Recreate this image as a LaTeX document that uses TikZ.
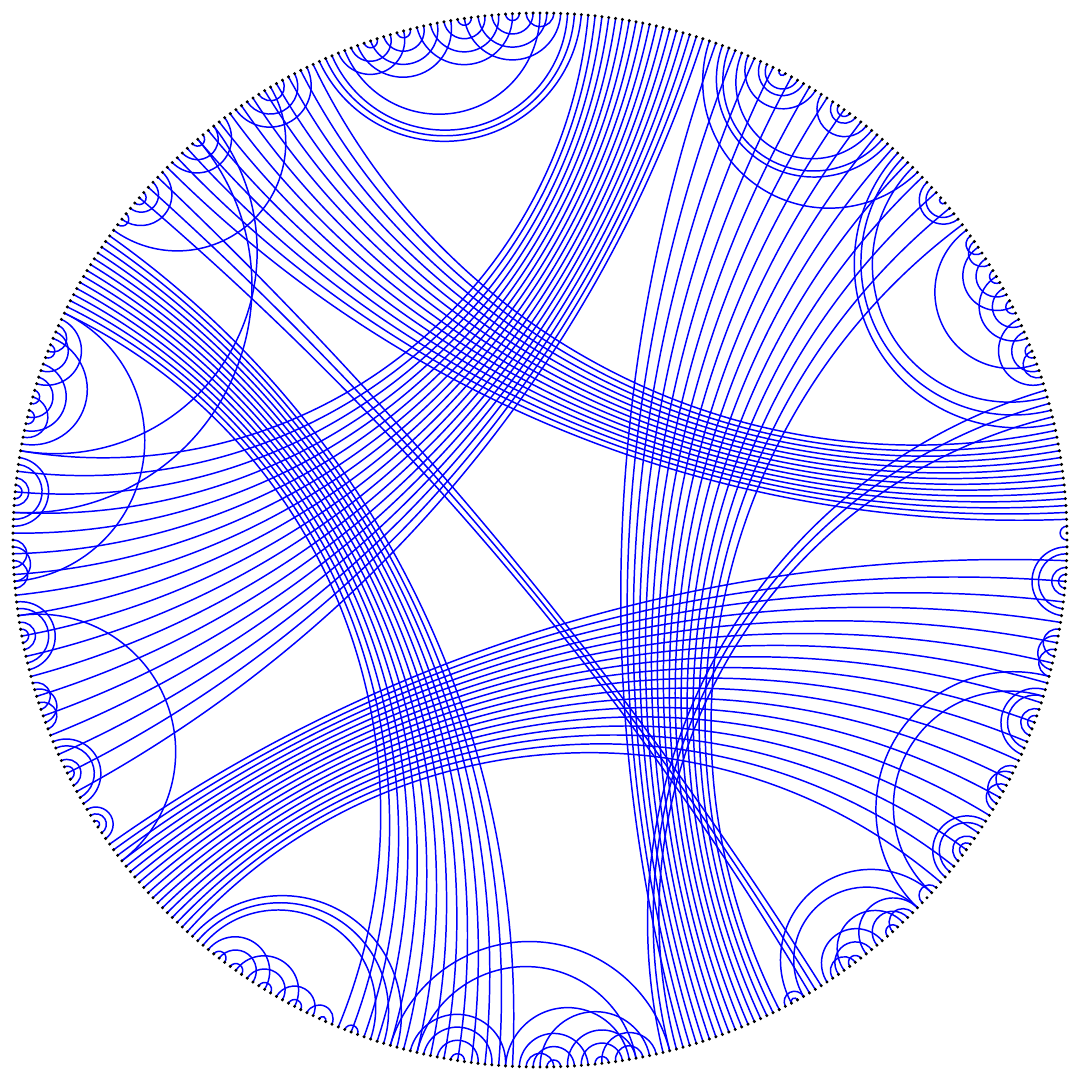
\documentclass[tikz,border=0pt]{standalone}
\usepackage{tikz}
\usetikzlibrary{arrows,positioning}

\newcommand{\rad}{5}
\newcommand{\stp}{0.75}
\tikzset{chord/.style={blue, line width=0.4pt},
         rimdot/.style={fill=black}}

% geodesic between two rim angles
\newcommand{\geo}[2]{%
  \pgfmathsetmacro{\gA}{#1}%
  \pgfmathsetmacro{\gB}{#2}%
  \pgfmathsetmacro{\gD}{mod(\gB-\gA+720,360)}%
  \ifdim\gD pt>180pt
    \pgfmathsetmacro{\gA}{\gB}%
    \pgfmathsetmacro{\gD}{360-\gD}%
  \fi
  \pgfmathsetmacro{\gH}{\gD/2}%
  \ifdim\gH pt>88pt
    \draw[chord] (\gA:\rad) -- (\gA+\gD:\rad);
  \else
    \pgfmathsetmacro{\gM}{\gA+\gH}%
    \pgfmathsetmacro{\gS}{\gM+270-\gH}%
    \pgfmathsetmacro{\gE}{\gM+90+\gH}%
    \pgfmathsetmacro{\gR}{\rad*tan(\gH)}%
    \draw[chord] (\gA:\rad) arc[start angle=\gS, end angle=\gE, radius=\gR];
  \fi}
\newcommand{\ch}[2]{\geo{(#1)*\stp}{(#2)*\stp}}
\newcommand{\nest}[2]{\foreach \j in {1,...,#2} {\ch{#1+\j-1}{#1+2*#2-\j}}}
\newcommand{\lnest}[3]{\foreach \j in {1,...,#2} {\ch{#1+(\j-1)*#3}{#1+(2*#2-\j)*#3}}}
\newcommand{\bundle}[5]{\foreach \j in {0,...,#5} {\ch{#1+(#2)*\j}{#3+(#4)*\j}}}
% free points between bundle ends that come every third place
\newcommand{\fpt}[2]{(#1+floor((#2)/2)*3+mod(#2,2))}
\newcommand{\fnest}[3]{\foreach \j in {1,...,#3} {\ch{\fpt{#1}{#2+\j-1}}{\fpt{#1}{#2+2*#3-\j}}}}
\newcommand{\fbraid}[3]{\foreach \j in {1,...,#3} {\ch{\fpt{#1}{#2+\j-1}}{\fpt{#1}{#2+#3+\j-1}}}}

\begin{document}
\begin{tikzpicture}
\useasboundingbox (-5.123,-5.123) rectangle (5.123,5.123);

% long bundles
\bundle{3}{1}{180}{-2}{13}
\bundle{18}{2}{380}{-1}{2}
\bundle{113}{-1}{227}{3}{17}
\bundle{396}{-1}{49}{3}{15}
\bundle{193}{1}{356}{-2}{13}
\bundle{287}{1}{477}{-3}{17}
\bundle{186}{-2}{401}{1}{2}

% upper right
\ch{0}{2}
\ch{17}{63} \ch{19}{62} \ch{21}{60}
\lnest{23}{3}{2} \lnest{30}{3}{2} \lnest{35}{3}{2}
\ch{24}{28} \ch{42}{46} \ch{44}{47} \ch{26}{48}
\fnest{50}{0}{3} \ch{59}{95}
\ch{65}{93} \ch{66}{92} \ch{68}{90}
\ch{69}{77} \ch{71}{75} \ch{72}{74}
\ch{78}{89} \ch{80}{87} \ch{81}{86} \ch{83}{84}

% top and upper left
\ch{114}{153} \ch{115}{152} \ch{116}{151}
\lnest{117}{4}{2} \lnest{124}{4}{2} \lnest{133}{4}{2} \lnest{140}{3}{2}
\ch{118}{122} \ch{120}{149}
\ch{155}{167} \ch{157}{165} \ch{159}{163} \ch{169}{179} \ch{171}{177} \ch{173}{175}
\ch{161}{192} \ch{181}{190} \ch{183}{188} \ch{185}{187} \ch{189}{191}

% left
\lnest{207}{3}{2} \lnest{214}{3}{2} \lnest{219}{2}{2}
\ch{208}{212} \ch{210}{226}
\fnest{228}{0}{4} \fbraid{228}{8}{3} \fnest{228}{14}{4} \fbraid{228}{22}{3} \fnest{228}{28}{4}
\nest{281}{3}

% bottom
\ch{305}{339} \ch{306}{337} \ch{307}{335}
\lnest{308}{3}{2} \lnest{313}{3}{2} \lnest{320}{2}{2}
\ch{309}{311} \ch{325}{329} \ch{327}{328} \ch{331}{333}
\lnest{341}{4}{2}
\lnest{357}{3}{2} \lnest{364}{3}{2}
\ch{358}{362} \ch{369}{377} \ch{371}{375} \ch{355}{373} \ch{360}{376}
\nest{397}{2}

% lower right
\lnest{404}{3}{2} \lnest{411}{3}{2}
\ch{405}{409} \ch{416}{420} \ch{422}{425} \ch{407}{418}
\fnest{427}{0}{4} \fbraid{427}{8}{3} \fnest{427}{14}{4} \fbraid{427}{22}{3} \fnest{427}{28}{4}

% wide arcs
\ch{171}{227} \ch{174}{236} \ch{206}{246} \ch{251}{290}
\ch{338}{379} \ch{342}{374}
\ch{398}{424} \ch{400}{421}
\ch{421}{460} \ch{424}{457}

% rim points
\foreach \k in {0,...,479}
  \fill[rimdot] (\k*\stp:\rad) circle (0.016);
\end{tikzpicture}
\end{document}
